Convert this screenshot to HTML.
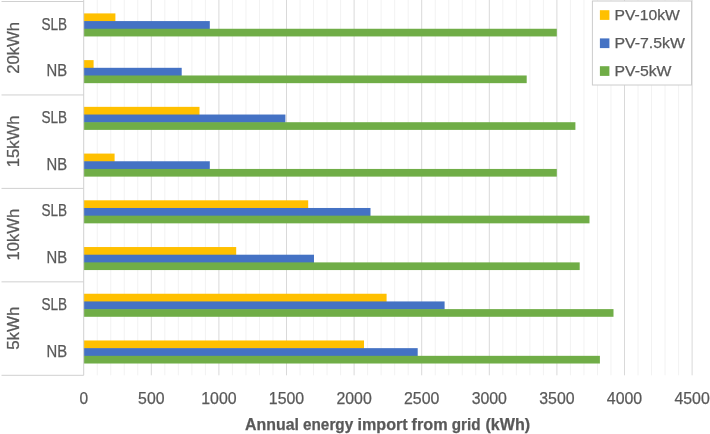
<!DOCTYPE html>
<html><head><meta charset="utf-8"><title>Annual energy import from grid</title>
<style>html,body{margin:0;padding:0;background:#fff}svg{display:block}text{font-family:"Liberation Sans",sans-serif;fill:#595959;stroke:#595959;stroke-width:0.25}</style></head><body>
<svg width="710" height="434" viewBox="0 0 710 434">
<rect width="710" height="434" fill="#fff"/>
<line x1="97.22" y1="0" x2="97.22" y2="375.3" stroke="#F2F2F2" stroke-width="1"/>
<line x1="110.74" y1="0" x2="110.74" y2="375.3" stroke="#F2F2F2" stroke-width="1"/>
<line x1="124.26" y1="0" x2="124.26" y2="375.3" stroke="#F2F2F2" stroke-width="1"/>
<line x1="137.78" y1="0" x2="137.78" y2="375.3" stroke="#F2F2F2" stroke-width="1"/>
<line x1="164.82" y1="0" x2="164.82" y2="375.3" stroke="#F2F2F2" stroke-width="1"/>
<line x1="178.34" y1="0" x2="178.34" y2="375.3" stroke="#F2F2F2" stroke-width="1"/>
<line x1="191.86" y1="0" x2="191.86" y2="375.3" stroke="#F2F2F2" stroke-width="1"/>
<line x1="205.38" y1="0" x2="205.38" y2="375.3" stroke="#F2F2F2" stroke-width="1"/>
<line x1="232.42" y1="0" x2="232.42" y2="375.3" stroke="#F2F2F2" stroke-width="1"/>
<line x1="245.94" y1="0" x2="245.94" y2="375.3" stroke="#F2F2F2" stroke-width="1"/>
<line x1="259.46" y1="0" x2="259.46" y2="375.3" stroke="#F2F2F2" stroke-width="1"/>
<line x1="272.98" y1="0" x2="272.98" y2="375.3" stroke="#F2F2F2" stroke-width="1"/>
<line x1="300.02" y1="0" x2="300.02" y2="375.3" stroke="#F2F2F2" stroke-width="1"/>
<line x1="313.54" y1="0" x2="313.54" y2="375.3" stroke="#F2F2F2" stroke-width="1"/>
<line x1="327.06" y1="0" x2="327.06" y2="375.3" stroke="#F2F2F2" stroke-width="1"/>
<line x1="340.58" y1="0" x2="340.58" y2="375.3" stroke="#F2F2F2" stroke-width="1"/>
<line x1="367.62" y1="0" x2="367.62" y2="375.3" stroke="#F2F2F2" stroke-width="1"/>
<line x1="381.14" y1="0" x2="381.14" y2="375.3" stroke="#F2F2F2" stroke-width="1"/>
<line x1="394.66" y1="0" x2="394.66" y2="375.3" stroke="#F2F2F2" stroke-width="1"/>
<line x1="408.18" y1="0" x2="408.18" y2="375.3" stroke="#F2F2F2" stroke-width="1"/>
<line x1="435.22" y1="0" x2="435.22" y2="375.3" stroke="#F2F2F2" stroke-width="1"/>
<line x1="448.74" y1="0" x2="448.74" y2="375.3" stroke="#F2F2F2" stroke-width="1"/>
<line x1="462.26" y1="0" x2="462.26" y2="375.3" stroke="#F2F2F2" stroke-width="1"/>
<line x1="475.78" y1="0" x2="475.78" y2="375.3" stroke="#F2F2F2" stroke-width="1"/>
<line x1="502.82" y1="0" x2="502.82" y2="375.3" stroke="#F2F2F2" stroke-width="1"/>
<line x1="516.34" y1="0" x2="516.34" y2="375.3" stroke="#F2F2F2" stroke-width="1"/>
<line x1="529.86" y1="0" x2="529.86" y2="375.3" stroke="#F2F2F2" stroke-width="1"/>
<line x1="543.38" y1="0" x2="543.38" y2="375.3" stroke="#F2F2F2" stroke-width="1"/>
<line x1="570.42" y1="0" x2="570.42" y2="375.3" stroke="#F2F2F2" stroke-width="1"/>
<line x1="583.94" y1="0" x2="583.94" y2="375.3" stroke="#F2F2F2" stroke-width="1"/>
<line x1="597.46" y1="0" x2="597.46" y2="375.3" stroke="#F2F2F2" stroke-width="1"/>
<line x1="610.98" y1="0" x2="610.98" y2="375.3" stroke="#F2F2F2" stroke-width="1"/>
<line x1="638.02" y1="0" x2="638.02" y2="375.3" stroke="#F2F2F2" stroke-width="1"/>
<line x1="651.54" y1="0" x2="651.54" y2="375.3" stroke="#F2F2F2" stroke-width="1"/>
<line x1="665.06" y1="0" x2="665.06" y2="375.3" stroke="#F2F2F2" stroke-width="1"/>
<line x1="678.58" y1="0" x2="678.58" y2="375.3" stroke="#F2F2F2" stroke-width="1"/>
<line x1="151.30" y1="0" x2="151.30" y2="375.3" stroke="#D9D9D9" stroke-width="1"/>
<line x1="218.90" y1="0" x2="218.90" y2="375.3" stroke="#D9D9D9" stroke-width="1"/>
<line x1="286.50" y1="0" x2="286.50" y2="375.3" stroke="#D9D9D9" stroke-width="1"/>
<line x1="354.10" y1="0" x2="354.10" y2="375.3" stroke="#D9D9D9" stroke-width="1"/>
<line x1="421.70" y1="0" x2="421.70" y2="375.3" stroke="#D9D9D9" stroke-width="1"/>
<line x1="489.30" y1="0" x2="489.30" y2="375.3" stroke="#D9D9D9" stroke-width="1"/>
<line x1="556.90" y1="0" x2="556.90" y2="375.3" stroke="#D9D9D9" stroke-width="1"/>
<line x1="624.50" y1="0" x2="624.50" y2="375.3" stroke="#D9D9D9" stroke-width="1"/>
<line x1="692.10" y1="0" x2="692.10" y2="375.3" stroke="#D9D9D9" stroke-width="1"/>
<rect x="83.7" y="13.40" width="31.70" height="8.28" fill="#FFC000"/>
<rect x="83.7" y="21.08" width="126.10" height="8.28" fill="#4472C4"/>
<rect x="83.7" y="28.76" width="473.10" height="7.68" fill="#70AD47"/>
<rect x="83.7" y="60.12" width="9.90" height="8.28" fill="#FFC000"/>
<rect x="83.7" y="67.81" width="98.00" height="8.28" fill="#4472C4"/>
<rect x="83.7" y="75.48" width="443.00" height="7.68" fill="#70AD47"/>
<rect x="83.7" y="106.85" width="115.80" height="8.28" fill="#FFC000"/>
<rect x="83.7" y="114.53" width="201.70" height="8.28" fill="#4472C4"/>
<rect x="83.7" y="122.21" width="491.70" height="7.68" fill="#70AD47"/>
<rect x="83.7" y="153.58" width="30.90" height="8.28" fill="#FFC000"/>
<rect x="83.7" y="161.26" width="126.10" height="8.28" fill="#4472C4"/>
<rect x="83.7" y="168.94" width="473.10" height="7.68" fill="#70AD47"/>
<rect x="83.7" y="200.30" width="224.50" height="8.28" fill="#FFC000"/>
<rect x="83.7" y="207.98" width="286.80" height="8.28" fill="#4472C4"/>
<rect x="83.7" y="215.66" width="505.80" height="7.68" fill="#70AD47"/>
<rect x="83.7" y="247.03" width="152.50" height="8.28" fill="#FFC000"/>
<rect x="83.7" y="254.71" width="230.30" height="8.28" fill="#4472C4"/>
<rect x="83.7" y="262.38" width="496.00" height="7.68" fill="#70AD47"/>
<rect x="83.7" y="293.75" width="302.90" height="8.28" fill="#FFC000"/>
<rect x="83.7" y="301.43" width="360.90" height="8.28" fill="#4472C4"/>
<rect x="83.7" y="309.11" width="529.80" height="7.68" fill="#70AD47"/>
<rect x="83.7" y="340.47" width="280.30" height="8.28" fill="#FFC000"/>
<rect x="83.7" y="348.15" width="334.00" height="8.28" fill="#4472C4"/>
<rect x="83.7" y="355.83" width="516.20" height="7.68" fill="#70AD47"/>
<line x1="83.7" y1="0" x2="83.7" y2="375.3" stroke="#D0D0D0" stroke-width="1"/>
<line x1="1.5" y1="1.50" x2="83.7" y2="1.50" stroke="#D0D0D0" stroke-width="1"/>
<line x1="1.5" y1="94.95" x2="83.7" y2="94.95" stroke="#D0D0D0" stroke-width="1"/>
<line x1="1.5" y1="188.40" x2="83.7" y2="188.40" stroke="#D0D0D0" stroke-width="1"/>
<line x1="1.5" y1="281.85" x2="83.7" y2="281.85" stroke="#D0D0D0" stroke-width="1"/>
<line x1="1.5" y1="375.30" x2="83.7" y2="375.30" stroke="#D0D0D0" stroke-width="1"/>
<text x="67.1" y="29.56" font-size="15.8" text-anchor="end" textLength="25.6" lengthAdjust="spacingAndGlyphs">SLB</text>
<text x="67.1" y="76.29" font-size="15.8" text-anchor="end" textLength="20.6" lengthAdjust="spacingAndGlyphs">NB</text>
<text x="67.1" y="123.01" font-size="15.8" text-anchor="end" textLength="25.6" lengthAdjust="spacingAndGlyphs">SLB</text>
<text x="67.1" y="169.74" font-size="15.8" text-anchor="end" textLength="20.6" lengthAdjust="spacingAndGlyphs">NB</text>
<text x="67.1" y="216.46" font-size="15.8" text-anchor="end" textLength="25.6" lengthAdjust="spacingAndGlyphs">SLB</text>
<text x="67.1" y="263.19" font-size="15.8" text-anchor="end" textLength="20.6" lengthAdjust="spacingAndGlyphs">NB</text>
<text x="67.1" y="309.91" font-size="15.8" text-anchor="end" textLength="25.6" lengthAdjust="spacingAndGlyphs">SLB</text>
<text x="67.1" y="356.64" font-size="15.8" text-anchor="end" textLength="20.6" lengthAdjust="spacingAndGlyphs">NB</text>
<text transform="translate(19.3,73.72) rotate(-90)" font-size="16.2" textLength="51.8" lengthAdjust="spacingAndGlyphs">20kWh</text>
<text transform="translate(19.3,167.18) rotate(-90)" font-size="16.2" textLength="51.8" lengthAdjust="spacingAndGlyphs">15kWh</text>
<text transform="translate(19.3,260.62) rotate(-90)" font-size="16.2" textLength="51.8" lengthAdjust="spacingAndGlyphs">10kWh</text>
<text transform="translate(19.3,349.78) rotate(-90)" font-size="16.2" textLength="43.2" lengthAdjust="spacingAndGlyphs">5kWh</text>
<text x="79.40" y="403.7" font-size="16" textLength="8.6" lengthAdjust="spacingAndGlyphs">0</text>
<text x="138.10" y="403.7" font-size="16" textLength="26.4" lengthAdjust="spacingAndGlyphs">500</text>
<text x="201.25" y="403.7" font-size="16" textLength="35.3" lengthAdjust="spacingAndGlyphs">1000</text>
<text x="268.85" y="403.7" font-size="16" textLength="35.3" lengthAdjust="spacingAndGlyphs">1500</text>
<text x="336.45" y="403.7" font-size="16" textLength="35.3" lengthAdjust="spacingAndGlyphs">2000</text>
<text x="404.05" y="403.7" font-size="16" textLength="35.3" lengthAdjust="spacingAndGlyphs">2500</text>
<text x="471.65" y="403.7" font-size="16" textLength="35.3" lengthAdjust="spacingAndGlyphs">3000</text>
<text x="539.25" y="403.7" font-size="16" textLength="35.3" lengthAdjust="spacingAndGlyphs">3500</text>
<text x="606.85" y="403.7" font-size="16" textLength="35.3" lengthAdjust="spacingAndGlyphs">4000</text>
<text x="674.45" y="403.7" font-size="16" textLength="35.3" lengthAdjust="spacingAndGlyphs">4500</text>
<text y="430.3" font-size="16" font-weight="bold"><tspan x="245.1" textLength="53.8" lengthAdjust="spacingAndGlyphs">Annual</tspan> <tspan x="303.0" textLength="50.2" lengthAdjust="spacingAndGlyphs">energy</tspan> <tspan x="357.5" textLength="50.1" lengthAdjust="spacingAndGlyphs">import</tspan> <tspan x="411.5" textLength="36.1" lengthAdjust="spacingAndGlyphs">from</tspan> <tspan x="451.8" textLength="28.8" lengthAdjust="spacingAndGlyphs">grid</tspan> <tspan x="485.5" textLength="44.7" lengthAdjust="spacingAndGlyphs">(kWh)</tspan> </text>
<rect x="592.4" y="1" width="99.1" height="84" fill="#fff" stroke="#CCCCCC" stroke-width="1"/>
<rect x="599.9" y="10.20" width="9.5" height="9.7" fill="#FFC000"/>
<text x="614.5" y="20.0" font-size="15.4" textLength="65.3" lengthAdjust="spacingAndGlyphs">PV-10kW</text>
<rect x="599.9" y="38.40" width="9.5" height="9.7" fill="#4472C4"/>
<text x="614.5" y="48.2" font-size="15.4" textLength="70.5" lengthAdjust="spacingAndGlyphs">PV-7.5kW</text>
<rect x="599.9" y="66.20" width="9.5" height="9.7" fill="#70AD47"/>
<text x="614.5" y="76.0" font-size="15.4" textLength="57.0" lengthAdjust="spacingAndGlyphs">PV-5kW</text>
</svg></body></html>
